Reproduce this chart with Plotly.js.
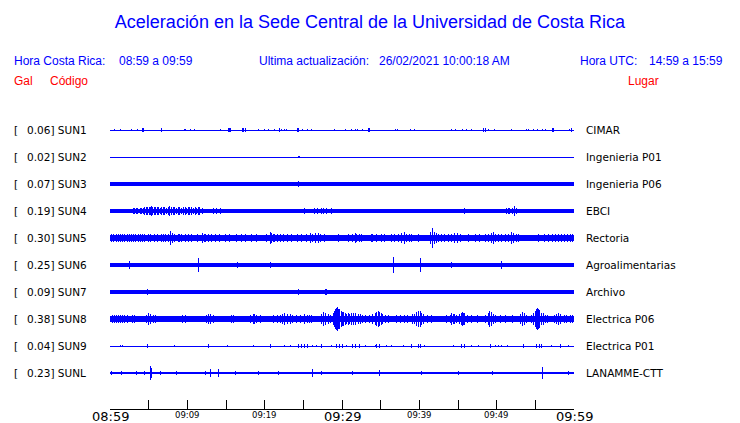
<!DOCTYPE html>
<html>
<head>
<meta charset="utf-8">
<script src="https://cdn.plot.ly/plotly-3.0.1.min.js"></script>
<style>
  html, body { margin: 0; padding: 0; background: #fff; }
  #chart { width: 740px; height: 423px; }
  .scatterlayer path { shape-rendering: crispEdges; }
</style>
</head>
<body>
<div id="chart"></div>
<script>
// ---------------- DATA ----------------
const stationCodes = ['SUN1','SUN2','SUN3','SUN4','SUN5','SUN6','SUN7','SUN8','SUN9','SUNL'];
const peakGal = ['0.06','0.02','0.07','0.19','0.30','0.25','0.09','0.38','0.04','0.23'];
const places = ['CIMAR','Ingenieria P01','Ingenieria P06','EBCI','Rectoria','Agroalimentarias','Archivo','Electrica P06','Electrica P01','LANAMME-CTT'];
// background noise half-amplitude (gal) of each trace
const noiseGal = [0, 0, 0.036, 0.05, 0.085, 0.033, 0.036, 0.08, 0, 0.028];
// time window, minutes after 08:59
const windowMinutes = [0, 60];
const tickMinutes = [0,5,10,15,20,25,30,35,40,45,50,55,60];
const majorTickMinutes = [0, 30, 60];
const majorTickLabels = ['08:59','09:29','09:59'];
const minorTickMinutes = [10, 20, 40, 50];
const minorTickLabels = ['09:09','09:19','09:39','09:49'];

// peaks: minute of the event and half-amplitude (gal)
const sun1Times = [0.6,1.4,2.8,3.5,4.2,4.3,6.6,6.7,9.6,9.8,10.4,10.9,14.3,15.3,15.4,15.6,17.1,17.3,17.5,19.2,20.0,20.5,21.3,21.9,22.2,22.6,22.8,24.3,24.4,24.9,25.5,26.1,29.0,30.5,31.2,31.8,32.0,32.7,33.4,33.5,36.9,37.2,38.8,39.4,44.2,44.7,45.6,46.1,46.8,48.3,48.6,49.0,49.7,51.9,53.9,54.1,54.7,55.3,55.9,56.3,57.2,57.3,59.4,59.7];
const sun1Amps  = [.04,.03,.04,.04,.05,.05,.05,.05,.04,.04,.04,.04,.04,.07,.06,.05,.05,.05,.05,.03,.04,.04,.04,.05,.04,.03,.03,.05,.05,.04,.03,.03,.04,.04,.03,.04,.04,.04,.05,.05,.04,.03,.04,.04,.04,.03,.04,.03,.04,.05,.06,.04,.03,.04,.04,.04,.04,.04,.04,.04,.05,.05,.03,.05];
const sun2Times = [24.4,24.5];
const sun2Amps  = [.04,.04];
const sun3Times = [0.3,5.7,17.5,24.4,24.5,31.5,47.8];
const sun3Amps  = [.05,.05,.05,.08,.07,.05,.05];
const sun4Times = [1.9,3.0,3.2,3.4,3.6,3.9,4.1,4.3,4.5,4.7,4.9,5.1,5.3,5.4,5.55,5.7,5.9,6.1,6.3,6.5,6.7,6.9,7.1,7.3,7.5,7.7,7.9,8.0,8.2,8.4,8.6,8.8,9.0,9.2,9.5,9.7,9.9,10.1,10.3,10.5,10.8,11.0,11.2,11.4,11.6,11.9,13.4,13.8,14.3,15.1,15.7,17.2,19.0,19.8,21.3,21.8,22.2,22.8,23.9,25.2,25.5,25.9,26.2,26.5,26.8,27.2,27.4,27.6,28.0,28.4,28.7,29.0,29.5,30.4,31.5,32.5,34.7,36.2,36.9,37.2,37.5,38.0,38.4,39.0,39.4,39.8,40.1,40.7,41.0,41.4,41.7,42.0,44.2,45.0,45.9,46.3,48.5,50.2,50.9,51.0,51.3,51.5,51.7,52.0,52.3,52.6,53.0,56.3,58.0,58.6,59.3];
const sun4Amps  = [.06,.09,.08,.10,.09,.09,.10,.10,.11,.12,.12,.14,.12,.15,.13,.12,.11,.12,.12,.10,.13,.12,.11,.10,.13,.15,.12,.13,.14,.12,.10,.11,.12,.10,.12,.11,.10,.12,.13,.11,.10,.12,.10,.14,.12,.10,.08,.08,.08,.07,.06,.07,.05,.06,.06,.06,.06,.06,.06,.08,.07,.07,.07,.08,.08,.07,.08,.09,.08,.07,.08,.07,.07,.07,.06,.05,.05,.06,.06,.06,.07,.07,.06,.06,.06,.07,.07,.07,.06,.06,.06,.06,.06,.07,.08,.07,.06,.06,.07,.07,.08,.08,.08,.09,.17,.08,.07,.05,.06,.06,.06];
const sun5Times = [0.2,0.5,0.8,1.1,1.4,1.6,1.9,2.2,2.5,2.8,3.0,3.3,3.7,4.0,4.2,4.5,5.0,5.3,5.8,6.2,6.6,6.9,7.2,7.5,7.8,8.1,8.4,8.8,9.0,9.3,9.7,10.2,10.6,11.3,11.9,12.2,12.4,12.7,13.1,13.6,14.2,14.9,15.5,16.4,17.0,17.5,18.3,19.0,20.3,20.7,20.9,21.1,21.3,21.6,22.0,22.4,23.0,23.5,24.2,24.8,25.4,25.9,26.2,26.6,26.9,27.2,27.8,29.5,30.8,31.3,31.7,31.9,32.2,32.5,33.8,34.0,34.5,35.1,35.5,36.4,36.8,37.3,37.7,38.1,38.4,38.7,39.0,39.9,41.4,41.7,41.9,42.2,42.5,42.9,43.3,43.8,44.2,44.6,44.9,45.3,46.3,47.2,47.8,48.5,48.9,49.3,49.6,49.9,50.2,50.6,51.1,51.5,51.9,52.2,52.5,52.8,55.4,56.2,56.7,57.2,57.6,58.0,58.4,58.8,59.1,59.5,59.8];
const sun5Amps  = [.12,.13,.12,.12,.13,.12,.11,.12,.13,.12,.12,.13,.11,.12,.11,.12,.12,.11,.12,.12,.13,.12,.13,.14,.23,.15,.12,.13,.12,.12,.12,.12,.12,.13,.15,.13,.12,.12,.13,.11,.12,.12,.11,.12,.12,.11,.11,.12,.14,.20,.16,.13,.14,.13,.12,.13,.12,.11,.12,.12,.14,.15,.14,.17,.15,.13,.12,.12,.11,.14,.16,.13,.12,.12,.12,.11,.12,.11,.13,.12,.12,.12,.15,.18,.14,.13,.12,.12,.20,.30,.20,.15,.14,.14,.13,.12,.14,.17,.15,.13,.12,.11,.12,.12,.13,.15,.18,.14,.12,.13,.12,.14,.18,.15,.13,.12,.11,.12,.12,.12,.13,.12,.13,.12,.13,.12,.12];
const sun6Times = [2.5,4.5,9.3,11.4,16.5,19.2,20.7,21.6,22.0,22.6,25.2,26.9,29.1,33.3,36.6,40.2,44.2,50.6,53.7,55.4];
const sun6Amps  = [.14,.04,.04,.21,.08,.07,.09,.06,.07,.06,.06,.04,.04,.07,.25,.23,.09,.12,.05,.05];
const sun7Times = [2.6,3.8,4.8,4.9,5.6,7.0,7.5,9.7,11.2,11.6,12.5,14.4,14.7,23.1,24.4,25.0,27.9,28.0,31.5,34.6,35.6,36.3,46.9,49.4,54.7,57.1,58.6];
const sun7Amps  = [.07,.07,.08,.08,.07,.07,.07,.06,.07,.07,.06,.07,.07,.07,.09,.07,.08,.08,.06,.07,.07,.07,.06,.06,.06,.06,.06];
const sun8Times = [0.3,0.6,0.9,1.1,1.3,1.6,1.9,2.2,2.6,2.9,3.2,4.7,5.0,5.2,5.3,5.6,5.9,6.3,8.4,9.1,9.4,9.7,10.6,12.5,12.8,13.0,13.4,14.9,15.7,16.0,16.4,17.0,18.2,18.5,18.7,19.0,19.5,20.5,21.2,21.6,22.0,22.3,22.6,22.9,23.3,23.6,24.1,24.6,25.2,25.5,25.8,26.1,26.9,27.3,27.6,27.9,28.2,28.5,28.9,29.0,29.2,29.3,29.4,29.5,29.6,29.7,29.9,30.0,30.2,30.4,30.6,30.8,31.0,31.2,31.5,31.8,32.1,32.4,32.7,33.0,33.5,34.0,34.3,34.5,34.7,34.9,35.1,35.3,35.6,36.0,37.0,37.6,38.1,38.5,39.1,39.4,39.6,39.9,40.1,40.3,40.6,41.0,41.6,42.9,43.5,44.0,44.2,44.4,44.6,44.8,45.2,45.4,45.6,45.7,45.9,46.2,46.8,47.5,48.6,48.9,49.1,49.3,49.6,49.9,50.5,51.1,52.0,53.1,53.4,53.6,53.9,54.5,54.8,55.0,55.15,55.3,55.45,55.6,55.8,56.0,56.3,56.6,57.5,57.8,58.0,58.3,58.8,59.0,59.5,59.8];
const sun8Amps  = [.12,.12,.13,.12,.12,.13,.12,.12,.10,.11,.12,.13,.18,.16,.14,.14,.12,.10,.10,.10,.12,.12,.10,.13,.17,.15,.12,.10,.12,.12,.10,.10,.12,.16,.15,.12,.11,.10,.12,.12,.13,.17,.20,.15,.15,.13,.13,.12,.15,.13,.14,.12,.10,.17,.22,.18,.15,.14,.20,.26,.30,.34,.38,.32,.28,.30,.25,.22,.22,.20,.17,.18,.16,.18,.20,.18,.17,.15,.13,.12,.12,.15,.20,.23,.26,.22,.20,.15,.13,.12,.12,.12,.13,.13,.15,.17,.22,.26,.24,.20,.15,.13,.12,.10,.11,.14,.18,.17,.15,.13,.15,.20,.23,.20,.18,.14,.12,.11,.14,.20,.25,.22,.15,.13,.11,.12,.12,.15,.21,.18,.12,.14,.20,.25,.30,.33,.30,.28,.20,.18,.14,.12,.13,.16,.18,.15,.12,.13,.12,.13];
const sun9Times = [1.4,1.6,4.9,8.3,12.7,15.2,18.5,20.8,22.6,23.3,24.4,24.8,25.2,25.6,26.2,26.7,27.4,28.7,29.3,29.7,30.0,30.6,31.3,31.8,32.3,33.0,34.3,34.5,34.8,35.8,36.4,37.9,39.0,39.9,40.2,40.7,44.4,45.5,45.8,46.8,47.7,49.2,49.8,50.2,50.6,51.4,53.5,55.2,55.5,55.8,57.1,58.2,58.3,59.3];
const sun9Amps  = [.03,.03,.06,.03,.05,.03,.03,.05,.04,.04,.05,.05,.05,.05,.04,.04,.05,.04,.05,.05,.05,.04,.05,.05,.05,.04,.03,.05,.05,.03,.03,.04,.05,.05,.05,.04,.04,.05,.05,.04,.04,.05,.04,.04,.04,.04,.05,.05,.05,.05,.04,.05,.05,.03];
const sunLTimes = [0.2,1.5,3.4,4.5,5.2,5.4,6.5,8.6,12.3,13.0,14.0,16.2,19.2,21.8,26.2,27.4,31.3,34.8,40.3,45.0,49.4,55.9,59.3];
const sunLAmps  = [.06,.05,.05,.06,.23,.15,.06,.05,.06,.13,.13,.06,.05,.06,.12,.06,.06,.09,.06,.06,.06,.20,.06];

const peakTimes = [sun1Times,sun2Times,sun3Times,sun4Times,sun5Times,sun6Times,sun7Times,sun8Times,sun9Times,sunLTimes];
const peakAmps  = [sun1Amps,sun2Amps,sun3Amps,sun4Amps,sun5Amps,sun6Amps,sun7Amps,sun8Amps,sun9Amps,sunLAmps];

// ---------------- LAYOUT CONSTANTS ----------------
const W = 740, H = 423;
const L = 110, R = 166, T = 112, B = 14;
const PX_PER_GAL = 32;
const ROW_PX = 27;
const GAP = ROW_PX / PX_PER_GAL;           // gal between traces
const plotH = H - T - B;
const yTop = 18 / PX_PER_GAL;
const yRange = [yTop - plotH / PX_PER_GAL, yTop];
const BLUE = '#0000ff', RED = '#ff0000';

const px2x = px => (px - L) / (W - L - R);
const px2y = py => (H - B - py) / plotH;

const traces = [];
stationCodes.forEach((code, i) => {
  const c = -i * GAP;
  const b = noiseGal[i];
  traces.push({
    type: 'scatter', mode: 'lines',
    x: [windowMinutes[0], windowMinutes[1], windowMinutes[1], windowMinutes[0], windowMinutes[0]],
    y: [c + b, c + b, c - b, c - b, c + b],
    fill: 'toself', fillcolor: BLUE,
    line: { color: BLUE, width: 1 },
    hoverinfo: 'skip', showlegend: false
  });
  const xs = [], ys = [];
  peakTimes[i].forEach((t, k) => {
    const a = peakAmps[i][k];
    xs.push(t, t, null);
    ys.push(c - a, c + a, null);
  });
  traces.push({
    type: 'scatter', mode: 'lines', x: xs, y: ys,
    line: { color: BLUE, width: 1 },
    hoverinfo: 'skip', showlegend: false
  });
});

const hdrFont = { family: 'Liberation Sans, Arial, sans-serif', size: 12, color: BLUE };
const redFont = { family: 'Liberation Sans, Arial, sans-serif', size: 12, color: RED };
const lblFont = { family: 'DejaVu Sans, sans-serif', size: 10.5, color: '#000' };

const ann = [];
function txt(text, px, py, font, xanchor) {
  ann.push({ text, x: px2x(px), y: px2y(py), xref: 'paper', yref: 'paper',
    xanchor: xanchor || 'left', yanchor: 'middle', showarrow: false, font, borderpad: 0, borderwidth: 0 });
}
txt('Hora Costa Rica:', 14, 61, hdrFont);
txt('08:59 a 09:59', 119, 61, hdrFont);
txt('Ultima actualización:', 259, 61, hdrFont);
txt('26/02/2021 10:00:18 AM', 379, 61, hdrFont);
txt('Hora UTC:', 580, 61, hdrFont);
txt('14:59 a 15:59', 649, 61, hdrFont);
txt('Gal', 14, 81, redFont);
txt('Código', 50, 81, redFont);
txt('Lugar', 628, 81, redFont);

stationCodes.forEach((code, i) => {
  const c = -i * GAP;
  const base = { xref: 'paper', yref: 'y', xanchor: 'left', yanchor: 'middle', showarrow: false, font: lblFont, borderpad: 0, borderwidth: 0 };
  ann.push(Object.assign({ text: '[', x: px2x(14), y: c }, base));
  ann.push(Object.assign({ text: peakGal[i] + '] ' + code, x: px2x(27), y: c }, base));
  ann.push(Object.assign({ text: places[i], x: px2x(586), y: c }, base));
});
majorTickMinutes.forEach((m, k) => {
  ann.push({ text: majorTickLabels[k], x: m, y: px2y(416), xref: 'x', yref: 'paper', xanchor: 'center', yanchor: 'middle',
    showarrow: false, borderpad: 0, borderwidth: 0, font: { family: 'DejaVu Sans, sans-serif', size: 13, color: '#000' } });
});
minorTickMinutes.forEach((m, k) => {
  ann.push({ text: minorTickLabels[k], x: m, y: px2y(415), xref: 'x', yref: 'paper', xanchor: 'center', yanchor: 'middle',
    showarrow: false, borderpad: 0, borderwidth: 0, font: { family: 'DejaVu Sans, sans-serif', size: 8.5, color: '#000' } });
});

const layout = {
  width: W, height: H,
  margin: { l: L, r: R, t: T, b: B, pad: 0 },
  paper_bgcolor: '#fff', plot_bgcolor: '#fff',
  showlegend: false, hovermode: false,
  title: { text: 'Aceleración en la Sede Central de la Universidad de Costa Rica',
    x: 0.5, xref: 'container', xanchor: 'center', y: 1 - 22 / H, yref: 'container', yanchor: 'middle',
    font: { family: 'Liberation Sans, Arial, sans-serif', size: 18, color: BLUE } },
  xaxis: {
    range: windowMinutes, tickmode: 'array', tickvals: tickMinutes, ticktext: tickMinutes.map(() => ''),
    ticks: 'inside', ticklen: 9, tickwidth: 1, tickcolor: '#000',
    showline: true, linecolor: '#000', linewidth: 1, showgrid: false, zeroline: false, fixedrange: true
  },
  yaxis: { range: yRange, visible: false, showgrid: false, zeroline: false, fixedrange: true },
  annotations: ann
};

Plotly.newPlot('chart', traces, layout, { staticPlot: true, displayModeBar: false });
</script>
</body>
</html>
